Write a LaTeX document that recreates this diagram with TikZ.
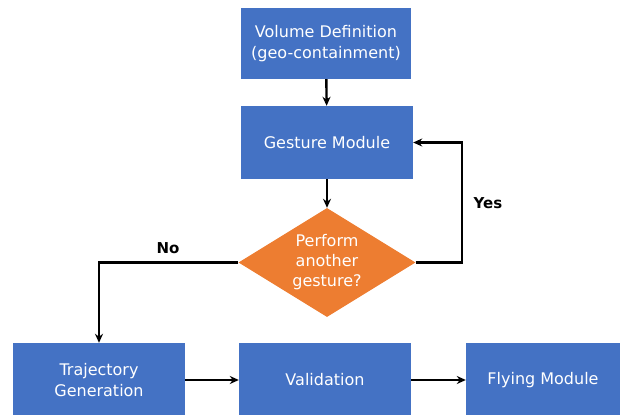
\documentclass[tikz,border=0pt]{standalone}
\usepackage{fontspec}
\setmainfont{DejaVu Sans}
\usetikzlibrary{shapes.geometric,arrows.meta}
\definecolor{boxBlue}{HTML}{4472C4}
\definecolor{boxOrange}{HTML}{ED7D31}
\tikzstyle{blueBox}=[shape = rectangle, fill = boxBlue, text = white, inner sep = 2pt, align = center, font = \fontsize{16}{21}\selectfont]
\tikzstyle{decisionStyle}=[shape = diamond, fill = boxOrange, text = white, inner sep = 0pt, aspect = 1.62, align = center, minimum width = 177pt, minimum height = 109pt, font = \fontsize{16}{20}\selectfont]
\tikzstyle{flowArrow}=[line width = 2.4pt, -{Stealth[length = 9pt, width = 8pt]}]
\tikzstyle{branchLabel}=[font = \fontsize{15}{17}\selectfont\bfseries]

\begin{document}
\begin{tikzpicture}[x = 1pt, y = -1pt]
\useasboundingbox (0,0) rectangle (625,415);
% boxes
\node[blueBox, minimum width = 170pt, minimum height = 71pt] (v0) at (326,43.5) {Volume Definition\\(geo-containment)};
\node[blueBox, minimum width = 172pt, minimum height = 73pt] (v1) at (327,142.5) {Gesture Module};
\node[decisionStyle] (v2) at (327,262.5) {Perform\\another\\gesture?};
\node[blueBox, minimum width = 172pt, minimum height = 74pt] (v3) at (99,380) {Trajectory\\Generation};
\node[blueBox, minimum width = 172pt, minimum height = 74pt] (v4) at (325,380) {Validation};
\node[blueBox, minimum width = 154pt, minimum height = 74pt] (v5) at (543,380) {Flying Module};
\coordinate (yesCorner) at (462,262.5);
% connectors
\draw[flowArrow] (v0) -- (v1);
\draw[flowArrow] (v1) -- (v2);
\draw[flowArrow] (v2.east) -- (yesCorner) |- (v1.east);
\draw[flowArrow] (v2.west) -| (v3.north);
\draw[flowArrow] (v3) -- (v4);
\draw[flowArrow] (v4) -- (v5);
\node[branchLabel] (yesLabel) at (488,203) {Yes};
\node[branchLabel] (noLabel) at (168,248) {No};
\end{tikzpicture}
\end{document}
